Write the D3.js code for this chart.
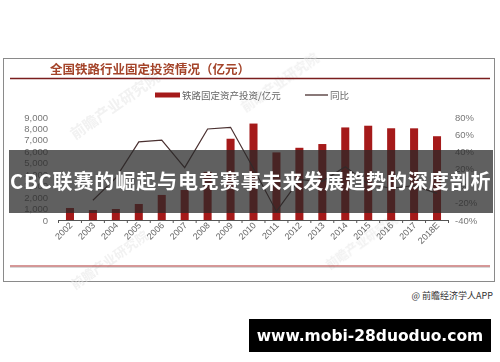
<!DOCTYPE html>
<html>
<head>
<meta charset="utf-8">
<script src="https://cdn.jsdelivr.net/npm/d3@7"></script>
<style>
  html, body { margin: 0; padding: 0; background: #fff; }
  svg { display: block; }
</style>
</head>
<body>
<svg id="chart" width="500" height="362"></svg>
<script>
// Railway fixed-asset investment (100M CNY) and year-on-year growth
const years = ["2002","2003","2004","2005","2006","2007","2008","2009","2010","2011","2012","2013","2014","2015","2016","2017","2018E"];
const investment = [1050, 870, 960, 1400, 2190, 2620, 4200, 7100, 8427, 5906, 6310, 6638, 8088, 8238, 8015, 8010, 7320];
const growthYears = ["2003","2004","2005","2006","2007","2008","2009","2010","2011","2012","2013","2014","2015","2016","2017","2018E"];
const growth = [-17, 9, 51, 53, 21, 66, 68, 20, -30, 7, 5, 22, 2, -3, 0, -9];
const leftTicks = [0, 1000, 2000, 3000, 4000, 5000, 6000, 7000, 8000, 9000];
const rightTicks = [-40, -20, 0, 20, 40, 60, 80];

const svg = d3.select("#chart");
const cjk = "'Noto Sans CJK SC', 'Noto Sans', sans-serif";
const latin = "'Liberation Sans', Arial, sans-serif";

// Panel frame
svg.append("rect").attr("x", 3.5).attr("y", 58.5).attr("width", 491).attr("height", 223)
  .attr("fill", "#fff").attr("stroke", "#8a8a8a").attr("stroke-width", 1);

// Faint publisher watermarks
const wm = svg.append("g").attr("fill", "#e4e4e4").attr("font-family", cjk)
  .attr("font-weight", "bold").attr("opacity", 0.5);
[[75, 140, 15], [245, 112, 13], [75, 290, 13], [330, 270, 12]].forEach(([x, y, s]) => {
  wm.append("text").attr("x", x).attr("y", y).attr("font-size", s)
    .attr("transform", `rotate(-35 ${x} ${y})`).text("前瞻产业研究院");
});

// Title and rules
svg.append("text").attr("x", 50).attr("y", 74).attr("font-family", cjk)
  .attr("font-size", 12.5).attr("font-weight", "bold").attr("fill", "#a4442a")
  .text("全国铁路行业固定投资情况（亿元）");
svg.append("line").attr("x1", 10).attr("x2", 490).attr("y1", 78.5).attr("y2", 78.5)
  .attr("stroke", "#7a1d1d").attr("stroke-width", 1.5);
svg.append("line").attr("x1", 10).attr("x2", 490).attr("y1", 266).attr("y2", 266)
  .attr("stroke", "#b03030").attr("stroke-width", 1.2);
svg.append("line").attr("x1", 10).attr("x2", 490).attr("y1", 267.3).attr("y2", 267.3)
  .attr("stroke", "#999").attr("stroke-width", 0.8).attr("opacity", 0.6);

// Legend
svg.append("rect").attr("x", 155).attr("y", 92.5).attr("width", 25).attr("height", 5).attr("fill", "#a51a1a");
svg.append("text").attr("x", 182).attr("y", 99).attr("font-family", cjk).attr("font-size", 9.5)
  .attr("fill", "#666").text("铁路固定资产投资/亿元");
svg.append("line").attr("x1", 305).attr("x2", 328).attr("y1", 95).attr("y2", 95)
  .attr("stroke", "#4a3030").attr("stroke-width", 1.3);
svg.append("text").attr("x", 330).attr("y", 99).attr("font-family", cjk).attr("font-size", 9.5)
  .attr("fill", "#666").text("同比");

// Scales
const x = d3.scaleBand().domain(years).range([58.5, 448.5]).paddingInner(0.65).paddingOuter(0.325);
const yL = d3.scaleLinear().domain([0, 9000]).range([220, 117]);
const yR = d3.scaleLinear().domain([-40, 80]).range([220, 117]);
const cx = d => x(d) + x.bandwidth() / 2;

// Left axis labels
const axL = svg.append("g").attr("transform", "translate(48,0)")
  .call(d3.axisLeft(yL).tickValues(leftTicks).tickSize(0).tickPadding(0).tickFormat(d3.format(",")));
axL.select(".domain").remove();
axL.selectAll("text").attr("font-family", latin).attr("font-size", 9.5).attr("fill", "#777");

// Right axis labels
const axR = svg.append("g").attr("transform", "translate(455,0)")
  .call(d3.axisRight(yR).tickValues(rightTicks).tickSize(0).tickPadding(0).tickFormat(d => d + "%"));
axR.select(".domain").remove();
axR.selectAll("text").attr("font-family", latin).attr("font-size", 9.5).attr("fill", "#777");

// Bars
svg.append("g").selectAll("rect").data(years).join("rect")
  .attr("x", d => x(d)).attr("width", x.bandwidth())
  .attr("y", (d, i) => yL(investment[i]))
  .attr("height", (d, i) => yL(0) - yL(investment[i]))
  .attr("fill", "#a51a1a");

// Growth line
const line = d3.line().x(d => cx(d[0])).y(d => yR(d[1]));
svg.append("path").datum(growthYears.map((y, i) => [y, growth[i]]))
  .attr("d", line).attr("fill", "none").attr("stroke", "#4a3030").attr("stroke-width", 1.2);

// Category axis
const axX = svg.append("g").attr("transform", "translate(0,220)")
  .call(d3.axisBottom(x).tickSize(0).tickPadding(0));
axX.select(".domain").attr("stroke", "#555").attr("d", "M58.5,0.5H448.5");
const step = x.step();
axX.append("g").selectAll("line").data(d3.range(years.length + 1)).join("line")
  .attr("x1", i => 58.5 + i * step).attr("x2", i => 58.5 + i * step)
  .attr("y1", 0).attr("y2", 3).attr("stroke", "#555");
axX.selectAll(".tick text")
  .attr("font-family", latin).attr("font-size", 9).attr("fill", "#666")
  .attr("text-anchor", "end").attr("dy", 0)
  .attr("transform", "translate(3,6) rotate(-45)");

// Source note
svg.append("text").attr("x", 493).attr("y", 299).attr("text-anchor", "end")
  .attr("font-family", cjk).attr("font-size", 9).attr("fill", "#333").text("@ 前瞻经济学人APP");

// Headline banner
svg.append("rect").attr("x", 9).attr("y", 150).attr("width", 484).attr("height", 63)
  .attr("fill", "rgb(40,40,40)").attr("opacity", 0.74);
svg.append("text").attr("x", 10).attr("y", 189).attr("font-family", cjk)
  .attr("font-size", 20).attr("font-weight", "bold").attr("fill", "#fff")
  .attr("letter-spacing", 0.9)
  .text("CBC联赛的崛起与电竞赛事未来发展趋势的深度剖析");

// Site badge
svg.append("rect").attr("x", 249).attr("y", 319).attr("width", 242).attr("height", 33).attr("fill", "#000");
svg.append("text").attr("x", 370).attr("y", 341).attr("text-anchor", "middle")
  .attr("font-family", "'DejaVu Sans', sans-serif").attr("font-size", 15.5).attr("font-weight", "bold")
  .attr("fill", "#fff").text("www.mobi-28duoduo.com");
</script>
</body>
</html>
